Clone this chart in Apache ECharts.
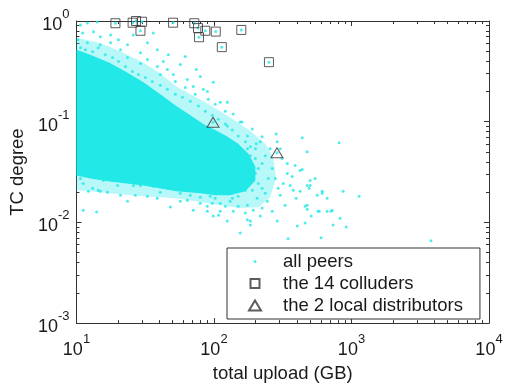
<!DOCTYPE html>
<html>
<head>
<meta charset="utf-8">
<script src="https://cdn.jsdelivr.net/npm/echarts@6/dist/echarts.min.js"></script>
<style>
  html, body { margin: 0; padding: 0; background: #fff; }
  #chart { width: 508px; height: 388px; }
</style>
</head>
<body>
<div id="chart"></div>
<script>
// axis ranges (decades)
const xTicks = [10, 100, 1000, 10000]
const yTicks = [0.001, 0.01, 0.1, 1]

// outline of the saturated core of the "all peers" cloud
const coreUpload = [10, 12.6, 17.4, 22.7, 30.7, 40.7, 53.2, 67.3, 83.6, 102, 123, 150, 178, 200, 200, 169, 131, 102, 79.5, 53.2, 30.7, 17.4, 12.6, 10]
const coreTc = [0.519, 0.463, 0.386, 0.315, 0.246, 0.187, 0.143, 0.116, 0.0949, 0.0829, 0.0723, 0.0603, 0.0481, 0.0359, 0.0261, 0.0204, 0.0186, 0.0186, 0.0195, 0.0204, 0.0233, 0.0255, 0.0273, 0.0292]

// outline of the looser band of peers around the core
const haloUpload = [10, 13.7, 17.4, 22.7, 30.7, 40.7, 53.2, 67.3, 86.5, 111, 143, 184, 236, 270, 283, 255, 210, 155, 111, 79.5, 53.2, 30.7, 17.4, 12.6, 10]
const haloTc = [0.681, 0.622, 0.555, 0.474, 0.386, 0.301, 0.224, 0.187, 0.156, 0.127, 0.102, 0.081, 0.0603, 0.044, 0.0275, 0.0176, 0.0141, 0.0139, 0.0148, 0.0159, 0.0174, 0.0182, 0.0195, 0.0204, 0.0208]

// individual peers around the core [upload GB, TC degree]
const peers = [
  [10.7, 0.913], [12.0, 0.956], [14.2, 0.978], [11.1, 0.762], [13.3, 0.78], [14.9, 0.696], [17.7, 0.728],
  [12.0, 0.608], [17.7, 0.608], [20.2, 0.65], [23.5, 0.581], [25.9, 0.728], [32.8, 0.608], [36.2, 0.762],
  [38.7, 0.519], [46.6, 0.463], [61.9, 0.443], [29.2, 0.485], [23.5, 0.433], [32.8, 0.414], [38.7, 0.353],
  [45.8, 0.33], [50.6, 0.294], [64.0, 0.263], [70.7, 0.224], [83.6, 0.21], [98.8, 0.246], [56.9, 0.369],
  [79.5, 0.281], [90.9, 0.167], [111, 0.156], [138, 0.119], [160, 0.0993], [125, 0.0907], [10.3, 0.65],
  [10.7, 0.543], [11.6, 0.519], [13.1, 0.496], [14.4, 0.543], [16.2, 0.463], [18.3, 0.433], [20.2, 0.395],
  [22.7, 0.353], [25.5, 0.315], [28.2, 0.294], [31.7, 0.275], [35.6, 0.251], [40.7, 0.23], [45.8, 0.21],
  [52.4, 0.187], [58.9, 0.175], [67.3, 0.16], [76.9, 0.143], [86.5, 0.127], [97.2, 0.116], [107.5, 0.106],
  [121, 0.0949], [136, 0.0829], [150, 0.0723], [169, 0.0632], [184, 0.0564], [29.2, 0.378], [40.7, 0.294],
  [61.9, 0.219], [73.1, 0.187], [102, 0.149], [121, 0.127], [14.9, 0.581], [20.9, 0.519], [52.4, 0.251],
  [42.8, 0.395], [74.4, 0.33],
  [190, 0.0848], [283, 0.0757], [438, 0.0691], [813, 0.0617], [476, 0.0504], [288, 0.0632], [175, 0.0723],
  [217, 0.0632], [236, 0.046], [341, 0.0384], [389, 0.0367], [423, 0.0328], [544, 0.0273], [869, 0.0204],
  [612, 0.0204], [377, 0.0208], [500, 0.0233], [89.4, 0.2], [125, 0.156], [155, 0.0993], [500, 0.0261],
  [341, 0.0306], [293, 0.0218], [358, 0.0233], [423, 0.0204], [563, 0.0186], [665, 0.0174], [1136, 0.0182],
  [476, 0.0148], [572, 0.0129], [723, 0.0132], [826, 0.011], [735, 0.00943], [403, 0.00922], [288, 0.0103],
  [217, 0.0116], [184, 0.0103], [125, 0.0103], [89.4, 0.0129], [108, 0.0118], [138, 0.0129], [175, 0.0148],
  [244, 0.0162], [303, 0.0186], [438, 0.0335], [476, 0.0233], [492, 0.0218], [612, 0.0195], [460, 0.0145],
  [476, 0.0135], [509, 0.0116], [582, 0.0129], [665, 0.0129], [711, 0.0129], [460, 0.00987], [914, 0.00902],
  [601, 0.00703], [3784, 0.00656], [346, 0.00687], [265, 0.0129], [200, 0.0306], [224, 0.0384], [248, 0.0273],
  [265, 0.0343], [210, 0.0244], [236, 0.0195], [279, 0.0273], [313, 0.043], [256, 0.0539], [200, 0.0539],
  [224, 0.0707], [303, 0.0539], [370, 0.0286], [319, 0.0244], [206, 0.0174], [169, 0.0124], [150, 0.0145],
  [121, 0.0145], [97.2, 0.0155], [131, 0.0162], [224, 0.0139], [329, 0.0148], [396, 0.0174], [190, 0.0208],
  [163, 0.0273], [184, 0.0384], [150, 0.0539], [184, 0.046], [200, 0.043], [178, 0.0343], [193, 0.0261],
  [169, 0.0208], [150, 0.0182], [136, 0.0174], [163, 0.0384], [210, 0.0343], [145, 0.0244], [184, 0.0273],
  [224, 0.0218], [175, 0.0539], [203, 0.0603],
  [11.2, 0.0132], [14.0, 0.0127], [12.2, 0.0204], [14.9, 0.0204], [16.8, 0.0199], [23.5, 0.0162],
  [26.8, 0.0186], [32.8, 0.0182], [38.7, 0.0174], [48.2, 0.0142], [56.9, 0.0162], [70.7, 0.0132],
  [79.5, 0.0155], [98.8, 0.0116], [111, 0.0129], [155, 0.00787], [175, 0.0106], [184, 0.00943],
  [193, 0.0132], [11.2, 0.0244], [13.1, 0.0218], [19.9, 0.0233], [29.2, 0.0233], [45.8, 0.0218],
  [79.5, 0.0204], [14.4, 0.0208], [20.9, 0.0186], [64.0, 0.0166], [89.4, 0.0145], [10.7, 0.0273],
  [12.6, 0.0286], [15.7, 0.0261], [25.9, 0.0233], [36.2, 0.0228], [56.9, 0.0195], [67.3, 0.0186],
  [11.2, 0.032], [17.7, 0.0292], [27.7, 0.0273], [42.8, 0.0255], [59.9, 0.0233], [48.2, 0.0233],
  [10.3, 0.0306], [13.7, 0.0306], [22.7, 0.0261], [34.5, 0.0244], [40.7, 0.0199], [79.5, 0.0178],
  [102, 0.0174], [111, 0.0155], [94.0, 0.0182], [61.9, 0.0208]
]

const colluders = [
  [19.2, 0.95], [25.6, 0.962], [27.1, 1.0], [30.0, 0.984], [29.2, 0.8], [50.4, 0.962], [71.9, 0.95],
  [76.5, 0.85], [77.8, 0.69], [86.5, 0.8], [103, 0.785], [114, 0.55], [158, 0.815], [251, 0.39]
]

const distributors = [[98.4, 0.0986], [287, 0.0492]]

const cyan = '#22e8e8'
const frame = '#333'
const ink = '#1a1a1a'
const font = 'Arial, "Liberation Sans", Helvetica, sans-serif'

const chart = echarts.init(document.getElementById('chart'))

function decadeLabel(v) {
  return '{b|10}{s|' + Math.round(Math.log10(v)) + '}'
}
const labelRich = {
  b: { fontSize: 18, fontFamily: font, color: ink, lineHeight: 26, verticalAlign: 'bottom' },
  s: { fontSize: 13, fontFamily: font, color: ink, lineHeight: 13, verticalAlign: 'top' }
}

// log-spaced minor ticks (2..9 per decade), in decade units
function minorTicks(lo, hi) {
  const out = []
  for (let e = lo; e < hi; e++) {
    for (let k = 2; k <= 9; k++) out.push(e + Math.log10(k))
  }
  return out
}

function logAxis(pos, extent, withLabels) {
  return {
    type: 'log',
    logBase: 10,
    position: pos,
    min: extent[0],
    max: extent[extent.length - 1],
    axisLine: { onZero: false, lineStyle: { color: frame, width: 1 } },
    axisTick: { inside: true, length: 5, lineStyle: { color: frame } },
    axisLabel: withLabels
      ? { formatter: decadeLabel, rich: labelRich, margin: pos === 'bottom' ? 10 : 7 }
      : { show: false },
    splitLine: { show: false },
    minorTick: { show: false }
  }
}

function minorAxis(pos, lo, hi) {
  return {
    type: 'value',
    position: pos,
    min: lo,
    max: hi,
    axisLine: { show: false, onZero: false },
    axisTick: { inside: true, length: 3, lineStyle: { color: frame }, customValues: minorTicks(lo, hi) },
    axisLabel: { show: false },
    splitLine: { show: false }
  }
}

const xLo = Math.round(Math.log10(xTicks[0]))
const xHi = Math.round(Math.log10(xTicks[xTicks.length - 1]))
const yLo = Math.round(Math.log10(yTicks[0]))
const yHi = Math.round(Math.log10(yTicks[yTicks.length - 1]))

const xMain = logAxis('bottom', xTicks, true)
xMain.name = 'total upload (GB)'
xMain.nameLocation = 'middle'
xMain.nameGap = 39
xMain.nameTextStyle = { fontSize: 18.5, fontFamily: font, color: ink }

const yMain = logAxis('left', yTicks, true)
yMain.name = 'TC degree'
yMain.nameLocation = 'middle'
yMain.nameGap = 43
yMain.nameTextStyle = { fontSize: 18.5, fontFamily: font, color: ink }

function outline(xs, ys, fill, z) {
  return {
    type: 'custom',
    z: z,
    silent: true,
    data: [[xs[0], ys[0]]],
    renderItem: (params, api) => ({
      type: 'polygon',
      shape: { points: xs.map((x, i) => api.coord([x, ys[i]])) },
      style: { fill: fill }
    })
  }
}

chart.setOption({
  animation: false,
  backgroundColor: '#fff',
  grid: { left: 76, right: 19, top: 21, bottom: 62, containLabel: false },
  xAxis: [xMain, logAxis('top', xTicks, false), minorAxis('bottom', xLo, xHi), minorAxis('top', xLo, xHi)],
  yAxis: [yMain, logAxis('right', yTicks, false), minorAxis('left', yLo, yHi), minorAxis('right', yLo, yHi)],
  legend: {
    orient: 'vertical',
    left: 227,
    top: 248,
    padding: [4, 17, 4, 21],
    itemGap: 3,
    itemWidth: 46,
    itemHeight: 12,
    backgroundColor: '#fff',
    borderColor: frame,
    borderWidth: 1,
    borderRadius: 0,
    textStyle: { fontSize: 18.5, fontFamily: font, color: ink, lineHeight: 18 },
    data: [
      { name: 'all peers', icon: 'path://M0,0M12,12M4.5,6a1.5,1.5 0 1,0 3,0a1.5,1.5 0 1,0 -3,0Z' },
      { name: 'the 14 colluders', icon: 'path://M0,0M12,12M1.5,1.5h9v9h-9Z' },
      { name: 'the 2 local distributors', icon: 'path://M0,0M12,12M6,1L12,11L0,11Z' }
    ],
    selectedMode: false
  },
  series: [
    {
      name: 'all peers',
      type: 'scatter',
      z: 3,
      silent: true,
      symbol: 'circle',
      symbolSize: 3,
      itemStyle: { color: cyan },
      data: peers.concat(colluders, distributors)
    },
    {
      name: 'the 14 colluders',
      type: 'scatter',
      z: 4,
      silent: true,
      symbol: 'rect',
      symbolSize: 9,
      itemStyle: { color: 'rgba(0,0,0,0)', borderColor: frame, borderWidth: 1 },
      data: colluders
    },
    {
      name: 'the 2 local distributors',
      type: 'scatter',
      z: 4,
      silent: true,
      symbol: 'triangle',
      symbolSize: [12, 10],
      itemStyle: { color: 'rgba(0,0,0,0)', borderColor: frame, borderWidth: 1 },
      data: distributors
    },
    outline(haloUpload, haloTc, 'rgba(34,232,232,0.32)', 1),
    outline(coreUpload, coreTc, cyan, 2)
  ]
})

window.addEventListener('resize', () => chart.resize())
</script>
</body>
</html>
